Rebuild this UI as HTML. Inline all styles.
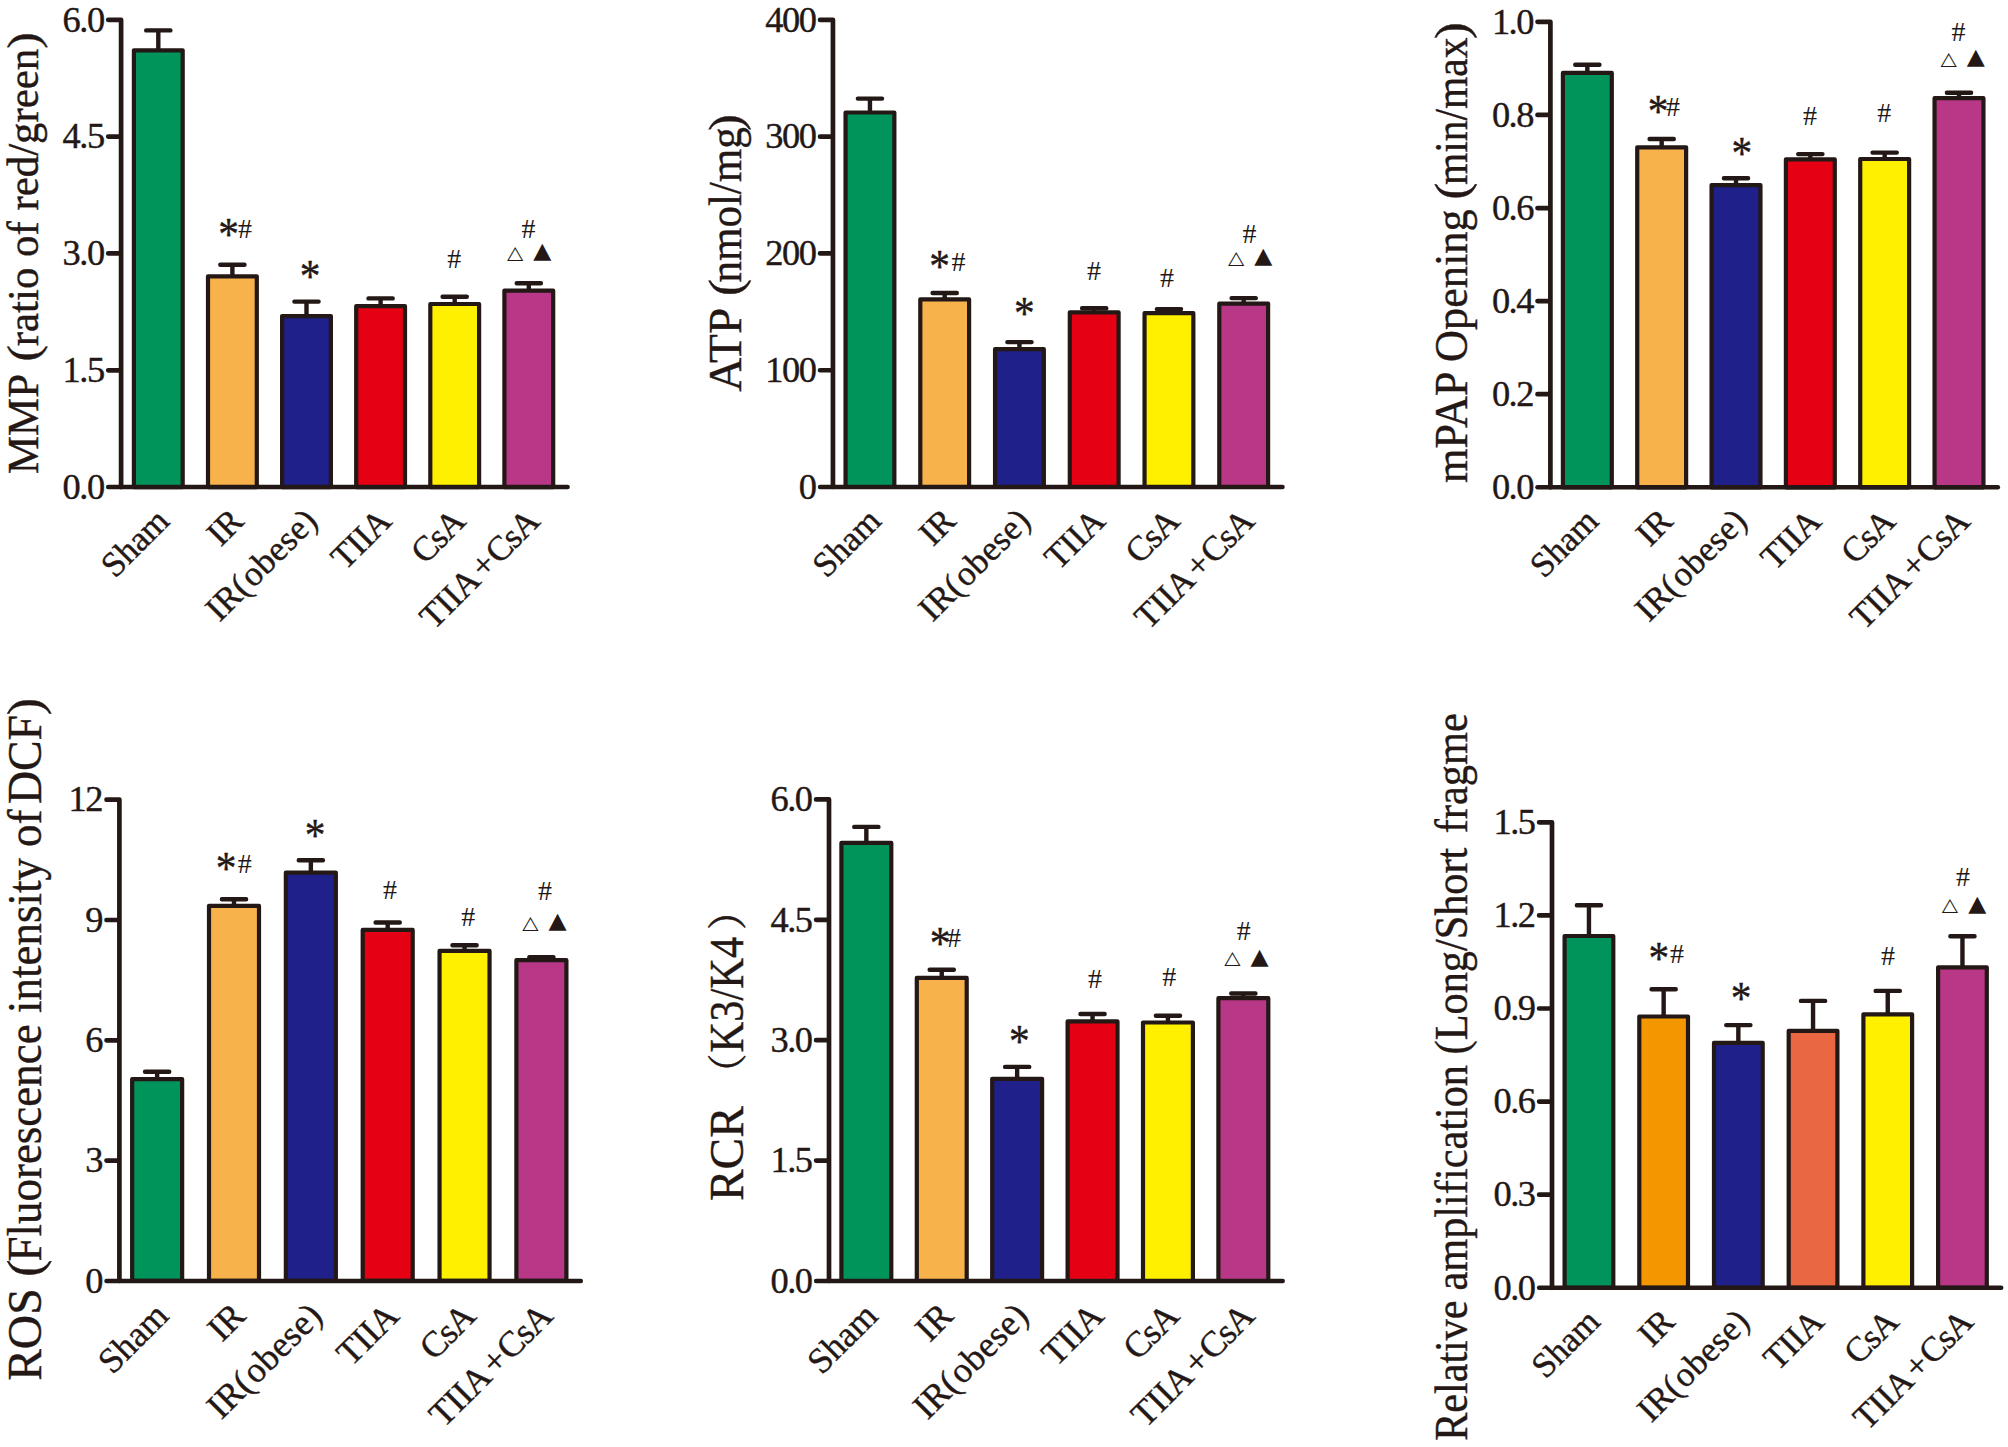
<!DOCTYPE html>
<html lang="en">
<head>
<meta charset="utf-8">
<title>Mitochondrial function bar charts</title>
<style>
html,body{margin:0;padding:0;background:#fff;}
body{width:2008px;height:1447px;overflow:hidden;}
svg{display:block;}
svg text{font-family:"Liberation Serif","Noto Serif CJK SC",serif;fill:#231815;stroke:#231815;stroke-width:0.4px;}
svg text.h{stroke:none;}
svg text.t{font-family:"DejaVu Sans",sans-serif;stroke:none;}
</style>
</head>
<body>
<svg width="2008" height="1447" viewBox="0 0 2008 1447">
<rect width="2008" height="1447" fill="#ffffff"/>
<g id="c1">
<path d="M158.3 50.2V30.4M146.2 30.4H170.4" stroke="#231815" stroke-width="4.4" stroke-linecap="round" fill="none"/>
<rect x="133.9" y="50.3" width="48.8" height="436.8" fill="#00935A" stroke="#231815" stroke-width="4.2" stroke-linejoin="round"/>
<path d="M232.4 276.2V264.7M220.3 264.7H244.5" stroke="#231815" stroke-width="4.4" stroke-linecap="round" fill="none"/>
<rect x="208" y="276.3" width="48.8" height="210.8" fill="#F7B24B" stroke="#231815" stroke-width="4.2" stroke-linejoin="round"/>
<path d="M306.5 316V301.6M294.4 301.6H318.6" stroke="#231815" stroke-width="4.4" stroke-linecap="round" fill="none"/>
<rect x="282.1" y="316.1" width="48.8" height="171" fill="#1F2089" stroke="#231815" stroke-width="4.2" stroke-linejoin="round"/>
<path d="M380.6 306.1V298.4M368.5 298.4H392.7" stroke="#231815" stroke-width="4.4" stroke-linecap="round" fill="none"/>
<rect x="356.2" y="306.2" width="48.8" height="180.9" fill="#E60013" stroke="#231815" stroke-width="4.2" stroke-linejoin="round"/>
<path d="M454.7 303.9V296.7M442.6 296.7H466.8" stroke="#231815" stroke-width="4.4" stroke-linecap="round" fill="none"/>
<rect x="430.3" y="304" width="48.8" height="183.1" fill="#FFF000" stroke="#231815" stroke-width="4.2" stroke-linejoin="round"/>
<path d="M528.8 290.5V283.2M516.7 283.2H540.9" stroke="#231815" stroke-width="4.4" stroke-linecap="round" fill="none"/>
<rect x="504.4" y="290.6" width="48.8" height="196.5" fill="#B93787" stroke="#231815" stroke-width="4.2" stroke-linejoin="round"/>
<path d="M108.2 487.1H567.6" stroke="#231815" stroke-width="4.5" stroke-linecap="round" fill="none"/>
<path d="M121.1 487.1V19.8M108.2 19.8H121.1M108.2 136.62H121.1M108.2 253.45H121.1M108.2 370.28H121.1" stroke="#231815" stroke-width="4.7" stroke-linecap="round" stroke-linejoin="round" fill="none"/>
<text x="103.6" y="31.5" text-anchor="end" font-size="36.4" letter-spacing="-1.5">6.0</text>
<text x="103.6" y="148.32" text-anchor="end" font-size="36.4" letter-spacing="-1.5">4.5</text>
<text x="103.6" y="265.15" text-anchor="end" font-size="36.4" letter-spacing="-1.5">3.0</text>
<text x="103.6" y="381.98" text-anchor="end" font-size="36.4" letter-spacing="-1.5">1.5</text>
<text x="103.6" y="498.8" text-anchor="end" font-size="36.4" letter-spacing="-1.5">0.0</text>
<text transform="translate(171.1 522.9) rotate(-45)" x="-0.1" text-anchor="end" font-size="35"><tspan letter-spacing="-0.1">Sham</tspan></text>
<text transform="translate(245.2 522.9) rotate(-45)" x="-0.3" text-anchor="end" font-size="35"><tspan letter-spacing="-0.3">IR</tspan></text>
<text transform="translate(319.3 522.9) rotate(-45)" x="-1.1" text-anchor="end" font-size="35"><tspan letter-spacing="0">IR</tspan><tspan letter-spacing="1.5">(</tspan><tspan letter-spacing="0.34">obese</tspan><tspan letter-spacing="-1.1">)</tspan></text>
<text transform="translate(393.4 522.9) rotate(-45)" x="-0.5" text-anchor="end" font-size="35"><tspan letter-spacing="-0.5">TIIA</tspan></text>
<text transform="translate(467.5 522.9) rotate(-45)" x="-1.1" text-anchor="end" font-size="35"><tspan letter-spacing="-1.1">CsA</tspan></text>
<text transform="translate(541.6 522.9) rotate(-45)" x="-1.1" text-anchor="end" font-size="35"><tspan letter-spacing="-0.4">TIIA</tspan><tspan letter-spacing="1" dx="3.4">+</tspan><tspan letter-spacing="-1.1">CsA</tspan></text>
<text transform="translate(38.4 474.04) rotate(-90)" font-size="45" textLength="100.15" lengthAdjust="spacingAndGlyphs">MMP</text>
<text transform="translate(38.4 361.48) rotate(-90) scale(1.1 1)" font-size="45">(</text>
<text transform="translate(38.4 346.16) rotate(-90)" font-size="45" textLength="297.31" lengthAdjust="spacingAndGlyphs">ratio of red/green</text>
<text transform="translate(38.4 48.81) rotate(-90) scale(1.1 1)" font-size="45">)</text>
<text transform="translate(228.6 227.3) scale(0.9 1.03)" x="-11.5" y="21.69" font-size="46" stroke="#231815" stroke-width="0.5">*</text>
<text x="238" y="237.67" font-size="28" fill="#45413f" class="h">#</text>
<text transform="translate(310.1 269.3) scale(0.9 1.03)" x="-11.5" y="21.69" font-size="46" stroke="#231815" stroke-width="0.5">*</text>
<text x="447.2" y="268.37" font-size="28" fill="#45413f" class="h">#</text>
<text x="521.5" y="238.07" font-size="28" fill="#45413f" class="h">#</text>
<text transform="translate(515.2 258.75) scale(1.16 1)" x="-7.04" y="0" font-size="18.3" class="t">△</text>
<text transform="translate(542.4 258.27) scale(1.06 1)" x="-8.54" y="0" font-size="22.2" class="t">▲</text>
</g>
<g id="c2">
<path d="M869.95 112.4V98.6M857.85 98.6H882.05" stroke="#231815" stroke-width="4.4" stroke-linecap="round" fill="none"/>
<rect x="845.55" y="112.5" width="48.8" height="374.5" fill="#00935A" stroke="#231815" stroke-width="4.2" stroke-linejoin="round"/>
<path d="M944.7 299.3V293M932.6 293H956.8" stroke="#231815" stroke-width="4.4" stroke-linecap="round" fill="none"/>
<rect x="920.3" y="299.4" width="48.8" height="187.6" fill="#F7B24B" stroke="#231815" stroke-width="4.2" stroke-linejoin="round"/>
<path d="M1019.45 349.1V342.1M1007.35 342.1H1031.55" stroke="#231815" stroke-width="4.4" stroke-linecap="round" fill="none"/>
<rect x="995.05" y="349.2" width="48.8" height="137.8" fill="#1F2089" stroke="#231815" stroke-width="4.2" stroke-linejoin="round"/>
<path d="M1094.2 312.2V308.3M1082.1 308.3H1106.3" stroke="#231815" stroke-width="4.4" stroke-linecap="round" fill="none"/>
<rect x="1069.8" y="312.3" width="48.8" height="174.7" fill="#E60013" stroke="#231815" stroke-width="4.2" stroke-linejoin="round"/>
<path d="M1168.95 313.1V309.1M1156.85 309.1H1181.05" stroke="#231815" stroke-width="4.4" stroke-linecap="round" fill="none"/>
<rect x="1144.55" y="313.2" width="48.8" height="173.8" fill="#FFF000" stroke="#231815" stroke-width="4.2" stroke-linejoin="round"/>
<path d="M1243.7 303.5V298.1M1231.6 298.1H1255.8" stroke="#231815" stroke-width="4.4" stroke-linecap="round" fill="none"/>
<rect x="1219.3" y="303.6" width="48.8" height="183.4" fill="#B93787" stroke="#231815" stroke-width="4.2" stroke-linejoin="round"/>
<path d="M820.05 487H1282.5" stroke="#231815" stroke-width="4.5" stroke-linecap="round" fill="none"/>
<path d="M832.95 487V19.9M820.05 19.9H832.95M820.05 136.68H832.95M820.05 253.45H832.95M820.05 370.23H832.95" stroke="#231815" stroke-width="4.7" stroke-linecap="round" stroke-linejoin="round" fill="none"/>
<text x="815.45" y="31.6" text-anchor="end" font-size="36.4" letter-spacing="-1.5">400</text>
<text x="815.45" y="148.38" text-anchor="end" font-size="36.4" letter-spacing="-1.5">300</text>
<text x="815.45" y="265.15" text-anchor="end" font-size="36.4" letter-spacing="-1.5">200</text>
<text x="815.45" y="381.93" text-anchor="end" font-size="36.4" letter-spacing="-1.5">100</text>
<text x="815.45" y="498.7" text-anchor="end" font-size="36.4" letter-spacing="-1.5">0</text>
<text transform="translate(882.75 522.8) rotate(-45)" x="-0.1" text-anchor="end" font-size="35"><tspan letter-spacing="-0.1">Sham</tspan></text>
<text transform="translate(957.5 522.8) rotate(-45)" x="-0.3" text-anchor="end" font-size="35"><tspan letter-spacing="-0.3">IR</tspan></text>
<text transform="translate(1032.25 522.8) rotate(-45)" x="-1.1" text-anchor="end" font-size="35"><tspan letter-spacing="0">IR</tspan><tspan letter-spacing="1.5">(</tspan><tspan letter-spacing="0.34">obese</tspan><tspan letter-spacing="-1.1">)</tspan></text>
<text transform="translate(1107 522.8) rotate(-45)" x="-0.5" text-anchor="end" font-size="35"><tspan letter-spacing="-0.5">TIIA</tspan></text>
<text transform="translate(1181.75 522.8) rotate(-45)" x="-1.1" text-anchor="end" font-size="35"><tspan letter-spacing="-1.1">CsA</tspan></text>
<text transform="translate(1256.5 522.8) rotate(-45)" x="-1.1" text-anchor="end" font-size="35"><tspan letter-spacing="-0.4">TIIA</tspan><tspan letter-spacing="1" dx="3.4">+</tspan><tspan letter-spacing="-1.1">CsA</tspan></text>
<text transform="translate(741.3 391.83) rotate(-90)" font-size="46" textLength="84.01" lengthAdjust="spacingAndGlyphs">ATP</text>
<text transform="translate(741.3 295.92) rotate(-90) scale(1.1 1)" font-size="46">(</text>
<text transform="translate(741.3 282.59) rotate(-90)" font-size="46" textLength="155.41" lengthAdjust="spacingAndGlyphs">nmol/mg</text>
<text transform="translate(741.3 131.03) rotate(-90) scale(1.1 1)" font-size="46">)</text>
<text transform="translate(939.7 259.9) scale(0.9 1.03)" x="-11.5" y="21.69" font-size="46" stroke="#231815" stroke-width="0.5">*</text>
<text x="951.4" y="270.57" font-size="28" fill="#45413f" class="h">#</text>
<text transform="translate(1024.3 306.4) scale(0.9 1.03)" x="-11.5" y="21.69" font-size="46" stroke="#231815" stroke-width="0.5">*</text>
<text x="1087" y="280.47" font-size="28" fill="#45413f" class="h">#</text>
<text x="1160" y="287.27" font-size="28" fill="#45413f" class="h">#</text>
<text x="1242.4" y="242.67" font-size="28" fill="#45413f" class="h">#</text>
<text transform="translate(1236.15 263.75) scale(1.16 1)" x="-7.04" y="0" font-size="18.3" class="t">△</text>
<text transform="translate(1263.35 263.27) scale(1.06 1)" x="-8.54" y="0" font-size="22.2" class="t">▲</text>
</g>
<g id="c3">
<path d="M1587.35 72.8V64.7M1575.25 64.7H1599.45" stroke="#231815" stroke-width="4.4" stroke-linecap="round" fill="none"/>
<rect x="1562.9" y="72.9" width="48.9" height="414.4" fill="#00935A" stroke="#231815" stroke-width="4.2" stroke-linejoin="round"/>
<path d="M1661.68 147.2V139M1649.58 139H1673.78" stroke="#231815" stroke-width="4.4" stroke-linecap="round" fill="none"/>
<rect x="1637.23" y="147.3" width="48.9" height="340" fill="#F7B24B" stroke="#231815" stroke-width="4.2" stroke-linejoin="round"/>
<path d="M1736.01 185V178.2M1723.91 178.2H1748.11" stroke="#231815" stroke-width="4.4" stroke-linecap="round" fill="none"/>
<rect x="1711.56" y="185.1" width="48.9" height="302.2" fill="#1F2089" stroke="#231815" stroke-width="4.2" stroke-linejoin="round"/>
<path d="M1810.34 159.3V154.1M1798.24 154.1H1822.44" stroke="#231815" stroke-width="4.4" stroke-linecap="round" fill="none"/>
<rect x="1785.89" y="159.4" width="48.9" height="327.9" fill="#E60013" stroke="#231815" stroke-width="4.2" stroke-linejoin="round"/>
<path d="M1884.67 158.9V152.6M1872.57 152.6H1896.77" stroke="#231815" stroke-width="4.4" stroke-linecap="round" fill="none"/>
<rect x="1860.22" y="159" width="48.9" height="328.3" fill="#FFF000" stroke="#231815" stroke-width="4.2" stroke-linejoin="round"/>
<path d="M1959 98.1V92.8M1946.9 92.8H1971.1" stroke="#231815" stroke-width="4.4" stroke-linecap="round" fill="none"/>
<rect x="1934.55" y="98.2" width="48.9" height="389.1" fill="#B93787" stroke="#231815" stroke-width="4.2" stroke-linejoin="round"/>
<path d="M1537.5 487.3H1997.85" stroke="#231815" stroke-width="4.5" stroke-linecap="round" fill="none"/>
<path d="M1550.4 487.3V21.85M1537.5 21.85H1550.4M1537.5 114.94H1550.4M1537.5 208.03H1550.4M1537.5 301.12H1550.4M1537.5 394.21H1550.4" stroke="#231815" stroke-width="4.7" stroke-linecap="round" stroke-linejoin="round" fill="none"/>
<text x="1532.9" y="33.55" text-anchor="end" font-size="36.4" letter-spacing="-1.5">1.0</text>
<text x="1532.9" y="126.64" text-anchor="end" font-size="36.4" letter-spacing="-1.5">0.8</text>
<text x="1532.9" y="219.73" text-anchor="end" font-size="36.4" letter-spacing="-1.5">0.6</text>
<text x="1532.9" y="312.82" text-anchor="end" font-size="36.4" letter-spacing="-1.5">0.4</text>
<text x="1532.9" y="405.91" text-anchor="end" font-size="36.4" letter-spacing="-1.5">0.2</text>
<text x="1532.9" y="499" text-anchor="end" font-size="36.4" letter-spacing="-1.5">0.0</text>
<text transform="translate(1600.15 523.1) rotate(-45)" x="-0.1" text-anchor="end" font-size="35"><tspan letter-spacing="-0.1">Sham</tspan></text>
<text transform="translate(1674.48 523.1) rotate(-45)" x="-0.3" text-anchor="end" font-size="35"><tspan letter-spacing="-0.3">IR</tspan></text>
<text transform="translate(1748.81 523.1) rotate(-45)" x="-1.1" text-anchor="end" font-size="35"><tspan letter-spacing="0">IR</tspan><tspan letter-spacing="1.5">(</tspan><tspan letter-spacing="0.34">obese</tspan><tspan letter-spacing="-1.1">)</tspan></text>
<text transform="translate(1823.14 523.1) rotate(-45)" x="-0.5" text-anchor="end" font-size="35"><tspan letter-spacing="-0.5">TIIA</tspan></text>
<text transform="translate(1897.47 523.1) rotate(-45)" x="-1.1" text-anchor="end" font-size="35"><tspan letter-spacing="-1.1">CsA</tspan></text>
<text transform="translate(1971.8 523.1) rotate(-45)" x="-1.1" text-anchor="end" font-size="35"><tspan letter-spacing="-0.4">TIIA</tspan><tspan letter-spacing="1" dx="3.4">+</tspan><tspan letter-spacing="-1.1">CsA</tspan></text>
<text transform="translate(1467 482.91) rotate(-90)" font-size="45.8" textLength="273.44" lengthAdjust="spacingAndGlyphs">mPAP Opening</text>
<text transform="translate(1467 199.41) rotate(-90) scale(1.1 1)" font-size="45.8">(</text>
<text transform="translate(1467 185.07) rotate(-90)" font-size="45.8" textLength="147.58" lengthAdjust="spacingAndGlyphs">min/max</text>
<text transform="translate(1467 39.06) rotate(-90) scale(1.1 1)" font-size="45.8">)</text>
<text transform="translate(1658.2 105) scale(0.9 1.03)" x="-11.5" y="21.69" font-size="46" stroke="#231815" stroke-width="0.5">*</text>
<text x="1666.1" y="115.57" font-size="28" fill="#45413f" class="h">#</text>
<text transform="translate(1741.8 146.5) scale(0.9 1.03)" x="-11.5" y="21.69" font-size="46" stroke="#231815" stroke-width="0.5">*</text>
<text x="1803" y="124.87" font-size="28" fill="#45413f" class="h">#</text>
<text x="1877.2" y="122.37" font-size="28" fill="#45413f" class="h">#</text>
<text x="1951.4" y="40.97" font-size="28" fill="#45413f" class="h">#</text>
<text transform="translate(1948.6 64.75) scale(1.16 1)" x="-7.04" y="0" font-size="18.3" class="t">△</text>
<text transform="translate(1975.8 64.27) scale(1.06 1)" x="-8.54" y="0" font-size="22.2" class="t">▲</text>
</g>
<g id="c4">
<path d="M157.15 1079.1V1071.7M145.05 1071.7H169.25" stroke="#231815" stroke-width="4.4" stroke-linecap="round" fill="none"/>
<rect x="132.15" y="1079.2" width="50" height="201.7" fill="#00935A" stroke="#231815" stroke-width="4.2" stroke-linejoin="round"/>
<path d="M234 905.7V899.2M221.9 899.2H246.1" stroke="#231815" stroke-width="4.4" stroke-linecap="round" fill="none"/>
<rect x="209" y="905.8" width="50" height="375.1" fill="#F7B24B" stroke="#231815" stroke-width="4.2" stroke-linejoin="round"/>
<path d="M310.85 872.6V860.3M298.75 860.3H322.95" stroke="#231815" stroke-width="4.4" stroke-linecap="round" fill="none"/>
<rect x="285.85" y="872.7" width="50" height="408.2" fill="#1F2089" stroke="#231815" stroke-width="4.2" stroke-linejoin="round"/>
<path d="M387.7 929.8V922.5M375.6 922.5H399.8" stroke="#231815" stroke-width="4.4" stroke-linecap="round" fill="none"/>
<rect x="362.7" y="929.9" width="50" height="351" fill="#E60013" stroke="#231815" stroke-width="4.2" stroke-linejoin="round"/>
<path d="M464.55 950.8V945.2M452.45 945.2H476.65" stroke="#231815" stroke-width="4.4" stroke-linecap="round" fill="none"/>
<rect x="439.55" y="950.9" width="50" height="330" fill="#FFF000" stroke="#231815" stroke-width="4.2" stroke-linejoin="round"/>
<path d="M541.4 960.1V957.3M529.3 957.3H553.5" stroke="#231815" stroke-width="4.4" stroke-linecap="round" fill="none"/>
<rect x="516.4" y="960.2" width="50" height="320.7" fill="#B93787" stroke="#231815" stroke-width="4.2" stroke-linejoin="round"/>
<path d="M106.5 1280.9H580.8" stroke="#231815" stroke-width="4.5" stroke-linecap="round" fill="none"/>
<path d="M119.4 1280.9V799.7M106.5 799.7H119.4M106.5 920H119.4M106.5 1040.3H119.4M106.5 1160.6H119.4" stroke="#231815" stroke-width="4.7" stroke-linecap="round" stroke-linejoin="round" fill="none"/>
<text x="101.9" y="811.4" text-anchor="end" font-size="36.4" letter-spacing="-1.5">12</text>
<text x="101.9" y="931.7" text-anchor="end" font-size="36.4" letter-spacing="-1.5">9</text>
<text x="101.9" y="1052" text-anchor="end" font-size="36.4" letter-spacing="-1.5">6</text>
<text x="101.9" y="1172.3" text-anchor="end" font-size="36.4" letter-spacing="-1.5">3</text>
<text x="101.9" y="1292.6" text-anchor="end" font-size="36.4" letter-spacing="-1.5">0</text>
<text transform="translate(170.33 1317.77) rotate(-45)" x="-0.1" text-anchor="end" font-size="36.05"><tspan letter-spacing="-0.1">Sham</tspan></text>
<text transform="translate(247.18 1317.77) rotate(-45)" x="-0.31" text-anchor="end" font-size="36.05"><tspan letter-spacing="-0.31">IR</tspan></text>
<text transform="translate(324.03 1317.77) rotate(-45)" x="-1.13" text-anchor="end" font-size="36.05"><tspan letter-spacing="0">IR</tspan><tspan letter-spacing="1.54">(</tspan><tspan letter-spacing="0.35">obese</tspan><tspan letter-spacing="-1.13">)</tspan></text>
<text transform="translate(400.88 1317.77) rotate(-45)" x="-0.52" text-anchor="end" font-size="36.05"><tspan letter-spacing="-0.52">TIIA</tspan></text>
<text transform="translate(477.73 1317.77) rotate(-45)" x="-1.13" text-anchor="end" font-size="36.05"><tspan letter-spacing="-1.13">CsA</tspan></text>
<text transform="translate(554.58 1317.77) rotate(-45)" x="-1.13" text-anchor="end" font-size="36.05"><tspan letter-spacing="-0.41">TIIA</tspan><tspan letter-spacing="1.03" dx="3.5">+</tspan><tspan letter-spacing="-1.13">CsA</tspan></text>
<text transform="translate(40.6 1380.87) rotate(-90)" font-size="47.5" textLength="92.52" lengthAdjust="spacingAndGlyphs">ROS</text>
<text transform="translate(40.6 1277.1) rotate(-90) scale(1.1 1)" font-size="47.5">(</text>
<text transform="translate(40.6 1261.6) rotate(-90)" font-size="47.5" textLength="452.2" lengthAdjust="spacingAndGlyphs">Fluorescence intensity of</text>
<text transform="translate(40.6 804.02) rotate(-90)" font-size="47.5" textLength="89.07" lengthAdjust="spacingAndGlyphs">DCF</text>
<text transform="translate(40.6 715.3) rotate(-90) scale(1.1 1)" font-size="47.5">)</text>
<text transform="translate(226.1 861.8) scale(0.9 1.03)" x="-11.5" y="21.69" font-size="46" stroke="#231815" stroke-width="0.5">*</text>
<text x="237.8" y="873.37" font-size="28" fill="#45413f" class="h">#</text>
<text transform="translate(315 828.4) scale(0.9 1.03)" x="-11.5" y="21.69" font-size="46" stroke="#231815" stroke-width="0.5">*</text>
<text x="383" y="899.47" font-size="28" fill="#45413f" class="h">#</text>
<text x="461.2" y="926.17" font-size="28" fill="#45413f" class="h">#</text>
<text x="537.9" y="899.57" font-size="28" fill="#45413f" class="h">#</text>
<text transform="translate(530.3 928.65) scale(1.16 1)" x="-7.04" y="0" font-size="18.3" class="t">△</text>
<text transform="translate(557.5 928.17) scale(1.06 1)" x="-8.54" y="0" font-size="22.2" class="t">▲</text>
</g>
<g id="c5">
<path d="M866.35 842.8V826.9M854.25 826.9H878.45" stroke="#231815" stroke-width="4.4" stroke-linecap="round" fill="none"/>
<rect x="841.4" y="842.9" width="49.9" height="438.1" fill="#00935A" stroke="#231815" stroke-width="4.2" stroke-linejoin="round"/>
<path d="M941.75 977.8V969.7M929.65 969.7H953.85" stroke="#231815" stroke-width="4.4" stroke-linecap="round" fill="none"/>
<rect x="916.8" y="977.9" width="49.9" height="303.1" fill="#F7B24B" stroke="#231815" stroke-width="4.2" stroke-linejoin="round"/>
<path d="M1017.15 1078.7V1066.9M1005.05 1066.9H1029.25" stroke="#231815" stroke-width="4.4" stroke-linecap="round" fill="none"/>
<rect x="992.2" y="1078.8" width="49.9" height="202.2" fill="#1F2089" stroke="#231815" stroke-width="4.2" stroke-linejoin="round"/>
<path d="M1092.55 1021.3V1014M1080.45 1014H1104.65" stroke="#231815" stroke-width="4.4" stroke-linecap="round" fill="none"/>
<rect x="1067.6" y="1021.4" width="49.9" height="259.6" fill="#E60013" stroke="#231815" stroke-width="4.2" stroke-linejoin="round"/>
<path d="M1167.95 1022.4V1015.7M1155.85 1015.7H1180.05" stroke="#231815" stroke-width="4.4" stroke-linecap="round" fill="none"/>
<rect x="1143" y="1022.5" width="49.9" height="258.5" fill="#FFF000" stroke="#231815" stroke-width="4.2" stroke-linejoin="round"/>
<path d="M1243.35 998.1V993.5M1231.25 993.5H1255.45" stroke="#231815" stroke-width="4.4" stroke-linecap="round" fill="none"/>
<rect x="1218.4" y="998.2" width="49.9" height="282.8" fill="#B93787" stroke="#231815" stroke-width="4.2" stroke-linejoin="round"/>
<path d="M816.1 1281H1282.7" stroke="#231815" stroke-width="4.5" stroke-linecap="round" fill="none"/>
<path d="M829 1281V799.4M816.1 799.4H829M816.1 919.8H829M816.1 1040.2H829M816.1 1160.6H829" stroke="#231815" stroke-width="4.7" stroke-linecap="round" stroke-linejoin="round" fill="none"/>
<text x="811.5" y="811.1" text-anchor="end" font-size="36.4" letter-spacing="-1.5">6.0</text>
<text x="811.5" y="931.5" text-anchor="end" font-size="36.4" letter-spacing="-1.5">4.5</text>
<text x="811.5" y="1051.9" text-anchor="end" font-size="36.4" letter-spacing="-1.5">3.0</text>
<text x="811.5" y="1172.3" text-anchor="end" font-size="36.4" letter-spacing="-1.5">1.5</text>
<text x="811.5" y="1292.7" text-anchor="end" font-size="36.4" letter-spacing="-1.5">0.0</text>
<text transform="translate(879.53 1317.87) rotate(-45)" x="-0.1" text-anchor="end" font-size="36.05"><tspan letter-spacing="-0.1">Sham</tspan></text>
<text transform="translate(954.93 1317.87) rotate(-45)" x="-0.31" text-anchor="end" font-size="36.05"><tspan letter-spacing="-0.31">IR</tspan></text>
<text transform="translate(1030.33 1317.87) rotate(-45)" x="-1.13" text-anchor="end" font-size="36.05"><tspan letter-spacing="0">IR</tspan><tspan letter-spacing="1.54">(</tspan><tspan letter-spacing="0.35">obese</tspan><tspan letter-spacing="-1.13">)</tspan></text>
<text transform="translate(1105.73 1317.87) rotate(-45)" x="-0.52" text-anchor="end" font-size="36.05"><tspan letter-spacing="-0.52">TIIA</tspan></text>
<text transform="translate(1181.13 1317.87) rotate(-45)" x="-1.13" text-anchor="end" font-size="36.05"><tspan letter-spacing="-1.13">CsA</tspan></text>
<text transform="translate(1256.53 1317.87) rotate(-45)" x="-1.13" text-anchor="end" font-size="36.05"><tspan letter-spacing="-0.41">TIIA</tspan><tspan letter-spacing="1.03" dx="3.5">+</tspan><tspan letter-spacing="-1.13">CsA</tspan></text>
<text transform="translate(743.3 1200.96) rotate(-90)" font-size="48" textLength="94.73" lengthAdjust="spacingAndGlyphs">RCR</text>
<text transform="translate(741.6 1093.3) rotate(-90)" font-size="40">（</text>
<text transform="translate(743.3 1052.43) rotate(-90)" font-size="48" textLength="115.79" lengthAdjust="spacingAndGlyphs">K3/K4</text>
<text transform="translate(741.6 930.2) rotate(-90)" font-size="40">）</text>
<text transform="translate(940.1 936.3) scale(0.9 1.03)" x="-11.5" y="21.69" font-size="46" stroke="#231815" stroke-width="0.5">*</text>
<text x="947.1" y="947.17" font-size="28" fill="#45413f" class="h">#</text>
<text transform="translate(1019.3 1034.6) scale(0.9 1.03)" x="-11.5" y="21.69" font-size="46" stroke="#231815" stroke-width="0.5">*</text>
<text x="1087.9" y="987.87" font-size="28" fill="#45413f" class="h">#</text>
<text x="1162.3" y="985.67" font-size="28" fill="#45413f" class="h">#</text>
<text x="1236.7" y="939.57" font-size="28" fill="#45413f" class="h">#</text>
<text transform="translate(1232.4 964.15) scale(1.16 1)" x="-7.04" y="0" font-size="18.3" class="t">△</text>
<text transform="translate(1259.6 963.67) scale(1.06 1)" x="-8.54" y="0" font-size="22.2" class="t">▲</text>
</g>
<g id="c6">
<path d="M1588.95 935.9V905.3M1576.85 905.3H1601.05" stroke="#231815" stroke-width="4.4" stroke-linecap="round" fill="none"/>
<rect x="1564.6" y="936" width="48.7" height="351.8" fill="#00935A" stroke="#231815" stroke-width="4.2" stroke-linejoin="round"/>
<path d="M1663.65 1016.4V989.3M1651.55 989.3H1675.75" stroke="#231815" stroke-width="4.4" stroke-linecap="round" fill="none"/>
<rect x="1639.3" y="1016.5" width="48.7" height="271.3" fill="#F39700" stroke="#231815" stroke-width="4.2" stroke-linejoin="round"/>
<path d="M1738.35 1042.8V1025.1M1726.25 1025.1H1750.45" stroke="#231815" stroke-width="4.4" stroke-linecap="round" fill="none"/>
<rect x="1714" y="1042.9" width="48.7" height="244.9" fill="#1F2089" stroke="#231815" stroke-width="4.2" stroke-linejoin="round"/>
<path d="M1813.05 1030.7V1000.9M1800.95 1000.9H1825.15" stroke="#231815" stroke-width="4.4" stroke-linecap="round" fill="none"/>
<rect x="1788.7" y="1030.8" width="48.7" height="257" fill="#EA6841" stroke="#231815" stroke-width="4.2" stroke-linejoin="round"/>
<path d="M1887.75 1014.2V990.9M1875.65 990.9H1899.85" stroke="#231815" stroke-width="4.4" stroke-linecap="round" fill="none"/>
<rect x="1863.4" y="1014.3" width="48.7" height="273.5" fill="#FFF000" stroke="#231815" stroke-width="4.2" stroke-linejoin="round"/>
<path d="M1962.45 967.3V936.2M1950.35 936.2H1974.55" stroke="#231815" stroke-width="4.4" stroke-linecap="round" fill="none"/>
<rect x="1938.1" y="967.4" width="48.7" height="320.4" fill="#B93787" stroke="#231815" stroke-width="4.2" stroke-linejoin="round"/>
<path d="M1539.1 1287.8H2001.2" stroke="#231815" stroke-width="4.5" stroke-linecap="round" fill="none"/>
<path d="M1552 1287.8V822.3M1539.1 822.3H1552M1539.1 915.4H1552M1539.1 1008.5H1552M1539.1 1101.6H1552M1539.1 1194.7H1552" stroke="#231815" stroke-width="4.7" stroke-linecap="round" stroke-linejoin="round" fill="none"/>
<text x="1534.5" y="834" text-anchor="end" font-size="36.4" letter-spacing="-1.5">1.5</text>
<text x="1534.5" y="927.1" text-anchor="end" font-size="36.4" letter-spacing="-1.5">1.2</text>
<text x="1534.5" y="1020.2" text-anchor="end" font-size="36.4" letter-spacing="-1.5">0.9</text>
<text x="1534.5" y="1113.3" text-anchor="end" font-size="36.4" letter-spacing="-1.5">0.6</text>
<text x="1534.5" y="1206.4" text-anchor="end" font-size="36.4" letter-spacing="-1.5">0.3</text>
<text x="1534.5" y="1299.5" text-anchor="end" font-size="36.4" letter-spacing="-1.5">0.0</text>
<text transform="translate(1601.75 1323.6) rotate(-45)" x="-0.1" text-anchor="end" font-size="35"><tspan letter-spacing="-0.1">Sham</tspan></text>
<text transform="translate(1676.45 1323.6) rotate(-45)" x="-0.3" text-anchor="end" font-size="35"><tspan letter-spacing="-0.3">IR</tspan></text>
<text transform="translate(1751.15 1323.6) rotate(-45)" x="-1.1" text-anchor="end" font-size="35"><tspan letter-spacing="0">IR</tspan><tspan letter-spacing="1.5">(</tspan><tspan letter-spacing="0.34">obese</tspan><tspan letter-spacing="-1.1">)</tspan></text>
<text transform="translate(1825.85 1323.6) rotate(-45)" x="-0.5" text-anchor="end" font-size="35"><tspan letter-spacing="-0.5">TIIA</tspan></text>
<text transform="translate(1900.55 1323.6) rotate(-45)" x="-1.1" text-anchor="end" font-size="35"><tspan letter-spacing="-1.1">CsA</tspan></text>
<text transform="translate(1975.25 1323.6) rotate(-45)" x="-1.1" text-anchor="end" font-size="35"><tspan letter-spacing="-0.4">TIIA</tspan><tspan letter-spacing="1" dx="3.4">+</tspan><tspan letter-spacing="-1.1">CsA</tspan></text>
<text transform="translate(1467 1440.71) rotate(-90)" font-size="45.6" textLength="140.17" lengthAdjust="spacingAndGlyphs">Relative</text>
<text transform="translate(1467 1290.49) rotate(-90)" font-size="45.6" textLength="442.83" lengthAdjust="spacingAndGlyphs">amplification (Long/Short</text>
<text transform="translate(1467 833.31) rotate(-90)" font-size="45.6" textLength="120.28" lengthAdjust="spacingAndGlyphs">fragme</text>
<text transform="translate(1658.8 952) scale(0.9 1.03)" x="-11.5" y="21.69" font-size="46" stroke="#231815" stroke-width="0.5">*</text>
<text x="1669.9" y="962.67" font-size="28" fill="#45413f" class="h">#</text>
<text transform="translate(1741 991.7) scale(0.9 1.03)" x="-11.5" y="21.69" font-size="46" stroke="#231815" stroke-width="0.5">*</text>
<text x="1881" y="965.27" font-size="28" fill="#45413f" class="h">#</text>
<text x="1956.1" y="885.87" font-size="28" fill="#45413f" class="h">#</text>
<text transform="translate(1950 911.35) scale(1.16 1)" x="-7.04" y="0" font-size="18.3" class="t">△</text>
<text transform="translate(1977.2 910.87) scale(1.06 1)" x="-8.54" y="0" font-size="22.2" class="t">▲</text>
</g>
</svg>
</body>
</html>
